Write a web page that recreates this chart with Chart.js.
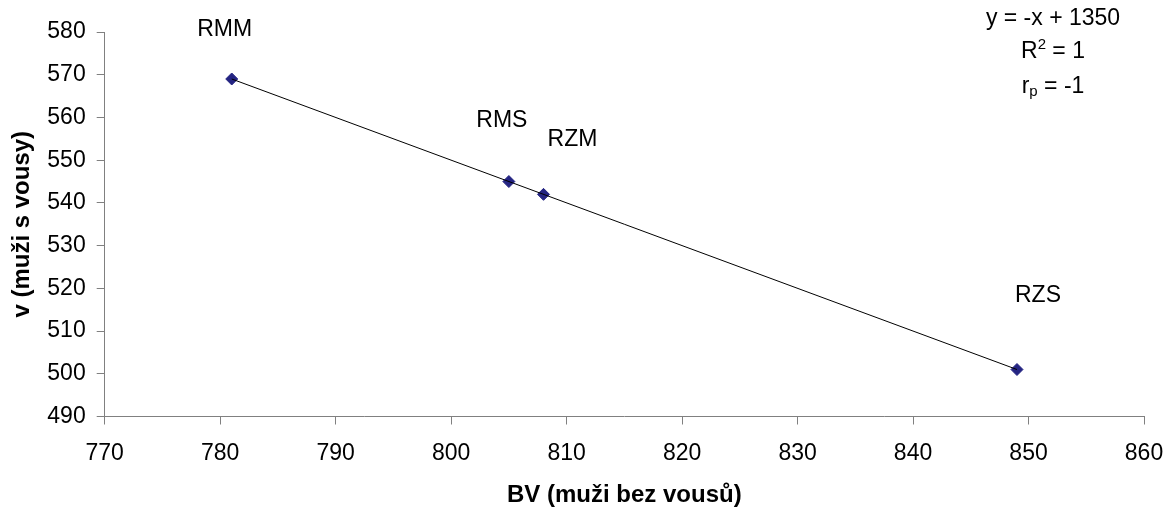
<!DOCTYPE html>
<html>
<head>
<meta charset="utf-8">
<script src="https://cdn.jsdelivr.net/npm/chart.js@4/dist/chart.umd.min.js"></script>
<style>
  html, body { margin: 0; padding: 0; background: #ffffff; }
  #wrap { width: 1173px; height: 510px; position: relative; }
</style>
</head>
<body>
<div id="wrap"><canvas id="c" width="1173" height="510"></canvas></div>
<script>
// ---- data ----
const categories = ['RMM', 'RMS', 'RZM', 'RZS'];
const bvValues = [781, 805, 808, 849];   // BV (muži bez vousů)
const vValues  = [569, 545, 542, 501];   // v (muži s vousy)
const xTickValues = [770, 780, 790, 800, 810, 820, 830, 840, 850, 860];
const yTickValues = [490, 500, 510, 520, 530, 540, 550, 560, 570, 580];
const xTitle = 'BV (muži bez vousů)';
const yTitle = 'v (muži s vousy)';
const equationLine = 'y = -x + 1350';
const r2Value = '1';
const rpValue = '-1';

// ---- styles / label offsets (px) ----
const FONT = "'Liberation Sans', Arial, sans-serif";
const labelOffsets = [[-7, -49], [-7, -61], [29, -55], [21, -74]];
const pointColor = '#242482';
const axisColor = '#808080';

// least-squares trendline over the data range
const n = bvValues.length;
const mx = bvValues.reduce((a, b) => a + b, 0) / n;
const my = vValues.reduce((a, b) => a + b, 0) / n;
let sxy = 0, sxx = 0;
for (let i = 0; i < n; i++) { sxy += (bvValues[i] - mx) * (vValues[i] - my); sxx += (bvValues[i] - mx) ** 2; }
const slope = sxy / sxx, intercept = my - slope * mx;
const xMin = Math.min(...bvValues), xMax = Math.max(...bvValues);
const trendData = [{ x: xMin, y: intercept + slope * xMin }, { x: xMax, y: intercept + slope * xMax }];

const pointData = bvValues.map((x, i) => ({ x, y: vValues[i] }));

const labelPlugin = {
  id: 'pointLabels',
  afterDatasetsDraw(chart) {
    const ctx = chart.ctx;
    const meta = chart.getDatasetMeta(1);
    ctx.save();
    ctx.font = '23px ' + FONT;
    ctx.fillStyle = '#000';
    ctx.textAlign = 'center';
    ctx.textBaseline = 'middle';
    meta.data.forEach((el, i) => {
      const o = labelOffsets[i];
      ctx.fillText(categories[i], el.x + o[0], el.y + o[1]);
    });
    ctx.restore();
  }
};

const equationPlugin = {
  id: 'equation',
  afterDraw(chart) {
    const ctx = chart.ctx;
    const cx = 1053;
    ctx.save();
    ctx.fillStyle = '#000';
    ctx.textBaseline = 'alphabetic';
    ctx.textAlign = 'left';
    const big = '23px ' + FONT, small = '15px ' + FONT;
    function drawParts(parts, baseline) {
      let total = 0;
      parts.forEach(p => { ctx.font = p.f; total += ctx.measureText(p.t).width; });
      let x = cx - total / 2;
      parts.forEach(p => { ctx.font = p.f; ctx.fillText(p.t, x, baseline + (p.dy || 0)); x += ctx.measureText(p.t).width; });
    }
    drawParts([{ t: equationLine, f: big }], 25);
    drawParts([{ t: 'R', f: big }, { t: '2', f: small, dy: -9 }, { t: ' = ' + r2Value, f: big }], 58);
    drawParts([{ t: 'r', f: big }, { t: 'p', f: small, dy: 3 }, { t: ' = ' + rpValue, f: big }], 93);
    ctx.restore();
  }
};

new Chart(document.getElementById('c'), {
  type: 'scatter',
  data: {
    datasets: [
      {
        label: 'trend',
        data: trendData,
        showLine: true,
        borderColor: '#000',
        borderWidth: 1,
        pointRadius: 0,
        pointHoverRadius: 0,
        fill: false
      },
      {
        label: 'data',
        data: pointData,
        showLine: false,
        pointStyle: 'rectRot',
        pointRadius: 6,
        pointBackgroundColor: pointColor,
        pointBorderColor: pointColor,
        pointBorderWidth: 1
      }
    ]
  },
  options: {
    responsive: false,
    animation: false,
    devicePixelRatio: 1,
    layout: { padding: { left: 0, top: 32, right: 29, bottom: 0 } },
    plugins: { legend: { display: false }, tooltip: { enabled: false } },
    scales: {
      x: {
        type: 'linear',
        min: xTickValues[0],
        max: xTickValues[xTickValues.length - 1],
        afterBuildTicks(scale) { scale.ticks = xTickValues.map(v => ({ value: v })); },
        afterFit(scale) { scale.height = 93.5; scale.paddingLeft = 0; scale.paddingRight = 0; },
        ticks: { font: { family: FONT, size: 23 }, color: '#000', padding: 15, maxRotation: 0 },
        grid: { drawOnChartArea: false, drawTicks: true, tickLength: 8, color: axisColor },
        border: { color: axisColor, width: 1 },
        title: { display: true, text: xTitle, font: { family: FONT, size: 24, weight: 'bold' }, color: '#000', padding: { top: 0, bottom: 0 } }
      },
      y: {
        type: 'linear',
        min: yTickValues[0],
        max: yTickValues[yTickValues.length - 1],
        afterBuildTicks(scale) { scale.ticks = yTickValues.map(v => ({ value: v })); },
        afterFit(scale) { scale.width = 104.7; scale.paddingTop = 0; scale.paddingBottom = 0; },
        ticks: { font: { family: FONT, size: 23 }, color: '#000', padding: 11 },
        grid: { drawOnChartArea: false, drawTicks: true, tickLength: 8, color: axisColor },
        border: { color: axisColor, width: 1 },
        title: { display: true, text: yTitle, font: { family: FONT, size: 24, weight: 'bold' }, color: '#000', padding: { top: 8, bottom: 0 } }
      }
    }
  },
  plugins: [labelPlugin, equationPlugin]
});
</script>
</body>
</html>
